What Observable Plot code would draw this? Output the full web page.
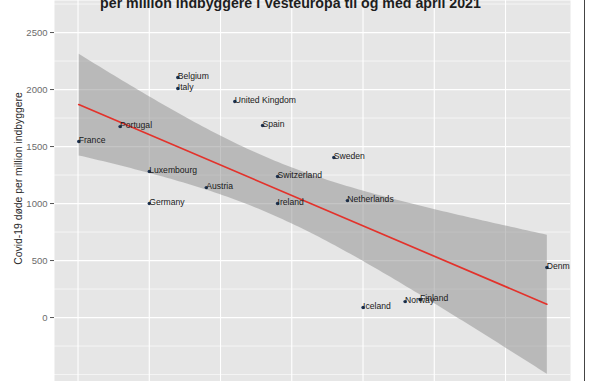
<!DOCTYPE html>
<html>
<head>
<meta charset="utf-8">
<script src="https://cdn.jsdelivr.net/npm/d3@7"></script>
<script src="https://cdn.jsdelivr.net/npm/@observablehq/plot@0.6"></script>
<style>
  html, body { margin: 0; padding: 0; background: #ffffff; }
  #chart { width: 589px; height: 381px; overflow: hidden; }
  svg { display: block; }
</style>
</head>
<body>
<div id="chart"></div>
<script>
// ---- data ----
const countries = ["France","Portugal","Belgium","Italy","United Kingdom","Spain","Luxembourg","Germany","Austria","Switzerland","Ireland","Sweden","Netherlands","Iceland","Norway","Finland","Denmark"];
const xValues   = [10.1, 15.9, 24.0, 24.0, 32.0, 35.9, 20.0, 20.0, 28.0, 38.0, 38.0, 45.9, 47.8, 50.0, 55.9, 58.0, 75.8];
const deaths    = [1544, 1675, 2105, 2009, 1895, 1684, 1281, 1000, 1140, 1237, 1000, 1404, 1026, 88, 140, 158, 439];
const yTicks      = [0, 500, 1000, 1500, 2000, 2500];
const yMinorTicks = [-500, -250, 250, 750, 1250, 1750, 2250, 2750];
const xGrid       = [10, 20, 30, 40, 50, 60, 70];
const titleText = "per million indbyggere i Vesteuropa til og med april 2021";
const yLabel = "Covid-19 døde per million indbyggere";

const data = countries.map((c, i) => ({country: c, x: xValues[i], y: deaths[i]}));

const font = "'Liberation Sans', Arial, sans-serif";

const plot = Plot.plot({
  width: 589,
  height: 381,
  marginLeft: 54,
  marginRight: 19,
  marginTop: 0,
  marginBottom: 0,
  style: {fontFamily: font, background: "#ffffff", overflow: "hidden"},
  x: {domain: [6.70, 79.12], axis: null},
  y: {domain: [-561, 2781], axis: null},
  marks: [
    Plot.frame({fill: "#e6e6e6", stroke: null}),
    Plot.ruleY(yMinorTicks, {stroke: "#ffffff", strokeWidth: 0.6}),
    Plot.ruleY(yTicks, {stroke: "#ffffff", strokeWidth: 1.2}),
    Plot.ruleX(xGrid, {stroke: "#ffffff", strokeWidth: 1.1}),
    Plot.linearRegressionY(data, {x: "x", y: "y", ci: 0.95, stroke: "#e3322b", strokeWidth: 1.7, fill: "#8f8f8f", fillOpacity: 0.52}),
    Plot.dot(data, {x: "x", y: "y", r: 1.7, fill: "#1d3152", stroke: null}),
    Plot.text(data, {x: "x", y: "y", text: "country", textAnchor: "start", dx: 0, dy: -1, fontSize: 8.6, fill: "#1a1a1a", clip: true}),
    Plot.axisY(yTicks, {tickSize: 4, tickPadding: 3, fontSize: 9.5, color: "#6b6b6b", label: null, stroke: "#555555", tickFormat: d => String(d)})
  ]
});

const svg = d3.select(plot);
svg.append("text")
  .attr("x", 290.5).attr("y", 8)
  .attr("text-anchor", "middle")
  .attr("font-family", font)
  .attr("font-weight", "bold")
  .attr("font-size", 14.2)
  .attr("fill", "#1e1e1e")
  .text(titleText);
svg.append("text")
  .attr("transform", "translate(22,178.5) rotate(-90)")
  .attr("text-anchor", "middle")
  .attr("font-family", font)
  .attr("font-size", 10.4)
  .attr("fill", "#2a2a2a")
  .text(yLabel);
svg.append("line")
  .attr("x1", 584.5).attr("x2", 584.5).attr("y1", 0).attr("y2", 381)
  .attr("stroke", "#444444").attr("stroke-width", 1);

document.getElementById("chart").appendChild(plot);
</script>
</body>
</html>
